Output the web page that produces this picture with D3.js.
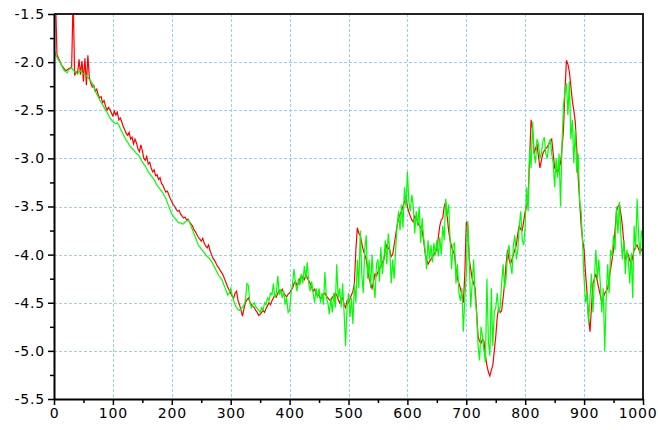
<!DOCTYPE html>
<html>
<head>
<meta charset="utf-8">
<script src="https://cdn.jsdelivr.net/npm/d3@7"></script>
<style>
  body { margin: 0; background: #fff; }
  svg { display: block; }
  .tick text { font-family: "DejaVu Sans", sans-serif; font-size: 14px; letter-spacing: 0.8px; fill: #000; }
</style>
</head>
<body>
<svg id="chart" width="658" height="430"></svg>
<script>
// Axis ticks and labels
const xTickValues = [0, 100, 200, 300, 400, 500, 600, 700, 800, 900, 1000];
const xTickLabels = ["0", "100", "200", "300", "400", "500", "600", "700", "800", "900", "1000"];
const xMinorTicks = [50, 150, 250, 350, 450, 550, 650, 750, 850, 950];
const yTickValues = [-5.5, -5.0, -4.5, -4.0, -3.5, -3.0, -2.5, -2.0, -1.5];
const yTickLabels = ["-5.5", "-5.0", "-4.5", "-4.0", "-3.5", "-3.0", "-2.5", "-2.0", "-1.5"];
const yMinorTicks = [-5.25, -4.75, -4.25, -3.75, -3.25, -2.75, -2.25, -1.75];

// One sample every 2.5 steps from 0 to 1000 (20 samples per row = 50 steps)
const sampleStep = 2.5;

const redSeries = [
  -1.20, -1.30, -1.92, -1.96, -1.99, -2.03, -2.05, -2.07, -2.09, -2.08, -2.07, -2.06, -2.05, -1.30, -2.14, -2.10, -2.12, -1.97, -2.13, -1.99,
  -2.20, -1.96, -2.24, -1.93, -2.16, -2.22, -2.26, -2.24, -2.30, -2.28, -2.34, -2.37, -2.36, -2.42, -2.40, -2.46, -2.50, -2.47, -2.49, -2.53,
  -2.56, -2.51, -2.55, -2.52, -2.60, -2.58, -2.62, -2.67, -2.70, -2.74, -2.76, -2.73, -2.80, -2.78, -2.85, -2.80, -2.84, -2.90, -2.93, -2.86,
  -2.92, -3.00, -3.02, -2.98, -3.06, -3.04, -3.10, -3.14, -3.12, -3.18, -3.17, -3.22, -3.20, -3.26, -3.28, -3.32, -3.35, -3.34, -3.38, -3.42,
  -3.45, -3.48, -3.50, -3.53, -3.55, -3.54, -3.58, -3.60, -3.62, -3.61, -3.64, -3.63, -3.66, -3.68, -3.70, -3.74, -3.76, -3.79, -3.82, -3.84,
  -3.86, -3.83, -3.88, -3.91, -3.93, -3.90, -3.96, -4.00, -4.04, -4.06, -4.09, -4.12, -4.14, -4.17, -4.19, -4.22, -4.26, -4.30, -4.34, -4.37,
  -4.40, -4.43, -4.45, -4.40, -4.38, -4.48, -4.52, -4.58, -4.64, -4.56, -4.50, -4.47, -4.45, -4.49, -4.52, -4.54, -4.55, -4.58, -4.60, -4.63,
  -4.62, -4.60, -4.58, -4.60, -4.56, -4.53, -4.50, -4.52, -4.48, -4.45, -4.42, -4.44, -4.40, -4.37, -4.38, -4.36, -4.40, -4.42, -4.44, -4.41,
  -4.40, -4.37, -4.35, -4.30, -4.28, -4.32, -4.30, -4.25, -4.22, -4.24, -4.26, -4.21, -4.24, -4.27, -4.30, -4.34, -4.38, -4.36, -4.40, -4.43,
  -4.42, -4.46, -4.44, -4.41, -4.40, -4.43, -4.45, -4.47, -4.48, -4.44, -4.45, -4.40, -4.42, -4.47, -4.50, -4.46, -4.45, -4.52, -4.55, -4.48,
  -4.50, -4.46, -4.42, -4.38, -4.30, -3.95, -3.72, -3.78, -3.80, -3.88, -3.95, -4.00, -4.05, -4.15, -4.25, -4.30, -4.35, -4.28, -4.20, -4.22,
  -4.18, -4.15, -4.12, -4.08, -4.05, -3.96, -3.90, -3.93, -3.95, -4.02, -4.00, -3.90, -3.80, -3.70, -3.62, -3.58, -3.55, -3.50, -3.45, -3.40,
  -3.50, -3.56, -3.60, -3.64, -3.66, -3.60, -3.62, -3.66, -3.70, -3.72, -3.75, -3.85, -3.98, -4.05, -4.10, -4.07, -4.05, -4.02, -4.00, -3.97,
  -3.95, -3.82, -3.70, -3.64, -3.62, -3.50, -3.45, -3.60, -3.75, -3.85, -3.92, -3.96, -4.00, -4.15, -4.25, -4.30, -4.35, -4.42, -4.50, -4.20,
  -3.66, -3.70, -4.05, -4.15, -4.25, -4.30, -4.35, -4.60, -4.85, -4.90, -4.92, -4.88, -4.90, -5.05, -5.15, -5.22, -5.26, -5.20, -5.15, -5.00,
  -4.85, -4.65, -4.55, -4.60, -4.58, -4.45, -4.30, -4.10, -3.95, -4.05, -4.10, -4.05, -4.00, -3.95, -3.90, -3.78, -3.70, -3.74, -3.75, -3.65,
  -3.55, -3.50, -3.40, -3.00, -2.60, -2.70, -2.95, -2.90, -2.85, -2.98, -3.10, -3.02, -2.95, -2.92, -2.90, -2.88, -2.85, -2.82, -2.80, -2.95,
  -3.10, -3.12, -3.15, -3.10, -3.05, -2.90, -2.70, -2.30, -1.98, -2.02, -2.10, -2.25, -2.40, -2.50, -2.62, -2.90, -3.20, -3.45, -3.70, -3.85,
  -3.95, -4.20, -4.40, -4.65, -4.80, -4.55, -4.30, -4.25, -4.20, -4.28, -4.35, -4.42, -4.50, -4.45, -4.40, -4.38, -4.35, -4.25, -4.15, -4.05,
  -3.95, -3.75, -3.55, -3.50, -3.48, -3.58, -3.70, -3.88, -4.05, -4.02, -4.00, -4.06, -4.10, -4.02, -3.95, -3.92, -3.90, -3.94, -3.98, -3.95,
  -3.92
];

const greenSeries = [
  -1.88, -1.92, -1.95, -1.98, -2.00, -2.03, -2.06, -2.09, -2.10, -2.11, -2.08, -2.07, -2.06, -2.08, -2.10, -2.11, -2.12, -2.10, -2.09, -2.11,
  -2.12, -2.13, -2.14, -2.16, -2.18, -2.20, -2.22, -2.26, -2.30, -2.33, -2.36, -2.39, -2.42, -2.44, -2.47, -2.50, -2.52, -2.55, -2.58, -2.60,
  -2.62, -2.63, -2.64, -2.63, -2.65, -2.69, -2.72, -2.75, -2.78, -2.81, -2.83, -2.86, -2.88, -2.90, -2.91, -2.93, -2.95, -2.96, -2.98, -3.01,
  -3.04, -3.06, -3.08, -3.11, -3.14, -3.16, -3.18, -3.20, -3.22, -3.25, -3.28, -3.30, -3.32, -3.34, -3.36, -3.39, -3.42, -3.46, -3.50, -3.54,
  -3.58, -3.60, -3.62, -3.64, -3.66, -3.67, -3.67, -3.68, -3.68, -3.66, -3.65, -3.64, -3.66, -3.70, -3.74, -3.78, -3.82, -3.86, -3.90, -3.92,
  -3.94, -3.96, -3.98, -4.00, -4.02, -4.03, -4.05, -4.07, -4.10, -4.13, -4.16, -4.19, -4.22, -4.24, -4.26, -4.30, -4.34, -4.38, -4.42, -4.40,
  -4.35, -4.42, -4.48, -4.52, -4.55, -4.57, -4.58, -4.56, -4.55, -4.52, -4.48, -4.30, -4.32, -4.50, -4.55, -4.52, -4.50, -4.54, -4.56, -4.58,
  -4.60, -4.55, -4.58, -4.50, -4.52, -4.45, -4.48, -4.40, -4.42, -4.30, -4.45, -4.40, -4.22, -4.42, -4.36, -4.45, -4.38, -4.52, -4.45, -4.60,
  -4.58, -4.40, -4.30, -4.15, -4.30, -4.38, -4.25, -4.32, -4.20, -4.30, -4.12, -4.25, -4.08, -4.30, -4.38, -4.28, -4.40, -4.50, -4.35, -4.45,
  -4.35, -4.50, -4.40, -4.52, -4.18, -4.45, -4.50, -4.62, -4.45, -4.60, -4.40, -4.55, -4.10, -4.45, -4.35, -4.55, -4.30, -4.60, -4.95, -4.55,
  -4.40, -4.65, -4.45, -4.72, -4.30, -4.50, -4.05, -4.35, -3.75, -4.20, -4.40, -3.95, -3.80, -4.25, -4.05, -4.35, -4.00, -4.30, -4.45, -4.10,
  -4.05, -4.28, -3.92, -4.20, -4.05, -3.85, -4.10, -3.78, -3.95, -4.30, -4.05, -4.25, -3.95, -3.70, -3.55, -3.75, -3.48, -3.72, -3.30, -3.50,
  -3.14, -3.45, -3.55, -3.38, -3.50, -3.78, -3.55, -3.70, -3.50, -3.88, -3.62, -3.82, -3.95, -4.15, -3.85, -4.05, -3.90, -4.08, -3.88, -4.00,
  -3.85, -4.02, -3.82, -4.00, -3.70, -3.85, -3.42, -3.60, -3.48, -3.85, -4.15, -3.90, -3.88, -4.30, -4.10, -4.40, -4.48, -4.35, -4.80, -4.45,
  -4.20, -3.65, -4.05, -4.55, -4.30, -4.05, -4.45, -4.60, -4.95, -5.10, -4.75, -4.85, -5.00, -5.12, -4.25, -4.90, -5.05, -4.35, -4.95, -4.60,
  -4.55, -4.40, -4.60, -4.55, -4.30, -4.10, -4.35, -4.25, -4.00, -3.90, -4.10, -4.20, -3.90, -3.80, -4.05, -3.95, -3.70, -3.55, -3.85, -3.90,
  -3.70, -3.30, -3.55, -2.90, -3.10, -2.62, -2.95, -3.05, -2.80, -2.85, -3.00, -2.95, -2.82, -2.78, -2.95, -3.00, -2.85, -2.80, -2.95, -3.05,
  -3.30, -3.00, -3.20, -2.95, -3.50, -2.85, -2.45, -2.30, -2.22, -2.55, -2.20, -2.80, -2.60, -3.05, -2.70, -3.15, -2.95, -3.45, -3.55, -3.90,
  -4.25, -4.50, -4.40, -4.72, -4.45, -4.20, -4.60, -4.25, -3.95, -4.25, -4.05, -4.30, -4.60, -4.35, -5.00, -4.45, -4.10, -4.40, -3.95, -4.02,
  -3.80, -3.95, -3.50, -3.78, -3.45, -3.80, -4.05, -3.85, -4.20, -3.95, -4.05, -4.30, -3.98, -4.45, -3.70, -3.95, -3.42, -3.80, -4.00, -3.75,
  -3.85
];

const xs = redSeries.map((_, i) => i * sampleStep);

const svg = d3.select("#chart");
const plot = { left: 54, top: 14, right: 643, bottom: 399 };

const x = d3.scaleLinear().domain([0, 1000]).range([plot.left, plot.right]);
const y = d3.scaleLinear().domain([-5.5, -1.5]).range([plot.bottom, plot.top]);

// Dotted grid
const grid = svg.append("g").attr("stroke", "#99ccff").attr("stroke-width", 1)
  .attr("stroke-dasharray", "3,2").attr("shape-rendering", "crispEdges");
grid.selectAll("line.v").data(xTickValues.slice(1, -1)).join("line")
  .attr("class", "v")
  .attr("x1", d => Math.round(x(d)) + 0.5).attr("x2", d => Math.round(x(d)) + 0.5)
  .attr("y1", plot.top).attr("y2", plot.bottom);
grid.selectAll("line.h").data(yTickValues.slice(1, -1)).join("line")
  .attr("class", "h")
  .attr("y1", d => Math.round(y(d)) + 0.5).attr("y2", d => Math.round(y(d)) + 0.5)
  .attr("x1", plot.left).attr("x2", plot.right);

// Series, clipped to the plot frame
svg.append("clipPath").attr("id", "plot-clip").append("rect")
  .attr("x", plot.left).attr("y", plot.top)
  .attr("width", plot.right - plot.left).attr("height", plot.bottom - plot.top);

const line = d3.line().x((d, i) => x(xs[i])).y(d => y(d));
const series = svg.append("g").attr("clip-path", "url(#plot-clip)");
series.append("path").datum(redSeries)
  .attr("fill", "none").attr("stroke", "#ff0000").attr("stroke-width", 1.2).attr("d", line);
series.append("path").datum(greenSeries)
  .attr("fill", "none").attr("stroke", "#00ff00").attr("stroke-width", 1.2).attr("d", line);

// Frame on top and right
svg.append("path")
  .attr("d", `M${plot.left},${plot.top}H${plot.right}V${plot.bottom}`)
  .attr("fill", "none").attr("stroke", "#222").attr("stroke-width", 2);

// Axes
const yAxis = d3.axisLeft(y).tickValues(yTickValues)
  .tickFormat((d, i) => yTickLabels[i]).tickSize(6).tickSizeOuter(0).tickPadding(3);
svg.append("g").attr("transform", `translate(${plot.left},0)`).call(yAxis);
const yMinor = d3.axisLeft(y).tickValues(yMinorTicks).tickFormat("").tickSize(4).tickSizeOuter(0);
svg.append("g").attr("transform", `translate(${plot.left},0)`).call(yMinor)
  .call(g => g.select(".domain").remove());

const xAxis = d3.axisBottom(x).tickValues(xTickValues)
  .tickFormat((d, i) => xTickLabels[i]).tickSize(6).tickSizeOuter(0).tickPadding(3);
const gx = svg.append("g").attr("transform", `translate(0,${plot.bottom})`).call(xAxis);
// keep the last label inside the canvas
gx.selectAll(".tick text").filter(d => d === 1000)
  .attr("text-anchor", "end").attr("x", 14);
const xMinor = d3.axisBottom(x).tickValues(xMinorTicks).tickFormat("").tickSize(4).tickSizeOuter(0);
svg.append("g").attr("transform", `translate(0,${plot.bottom})`).call(xMinor)
  .call(g => g.select(".domain").remove());

svg.selectAll(".domain").attr("stroke", "#000").attr("stroke-width", 2);
svg.selectAll(".tick line").attr("stroke", "#000").attr("stroke-width", 1.5);
</script>
</body>
</html>
